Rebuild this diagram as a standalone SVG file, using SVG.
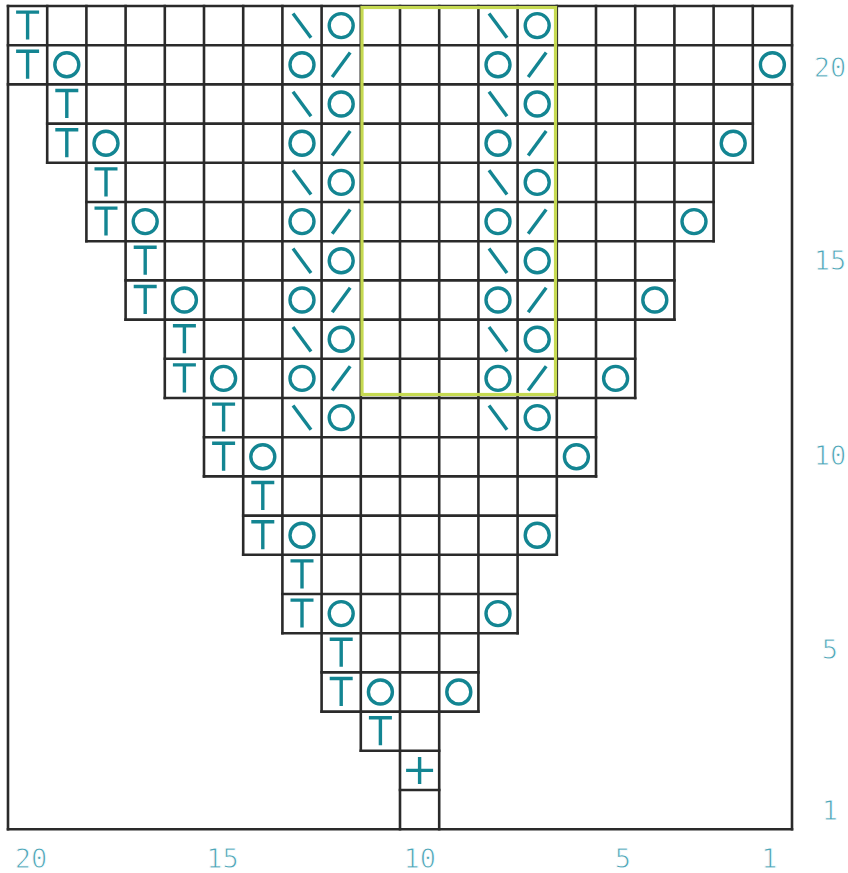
<svg xmlns="http://www.w3.org/2000/svg" xmlns:xlink="http://www.w3.org/1999/xlink" width="848" height="873" viewBox="0 0 848 873">
<style>
.grid{stroke:#2a2a2a;stroke-width:2.6;fill:none;stroke-linecap:square}
.sym{stroke:#138592;stroke-width:3.4;fill:none;stroke-linecap:butt}
.hl{stroke:#c6da52;stroke-width:3.2;fill:none}
.lbl{font-family:"DejaVu Sans Mono","Liberation Mono",monospace;font-size:27px;fill:#4ea6b8;text-anchor:middle;stroke:#ffffff;stroke-width:0.9;paint-order:normal}
</style>
<defs>
<circle id="O" class="sym" cx="0" cy="0" r="12"/>
<path id="T" class="sym" d="M-11.5,-13.5H11.5M0,-13.5V14"/>
<path id="B" class="sym" d="M-9,-12.2L9,12.2"/>
<path id="S" class="sym" d="M-9,12.2L9,-12.2"/>
<path id="P" class="sym" d="M-13.5,0H13.5M0,-13.5V13.5"/>
</defs>
<rect width="848" height="873" fill="#ffffff"/>
<g id="grid" class="grid">
<path d="M8,6H792M8,45.2H792M8,84.4H792M47.2,123.6H752.8M47.2,162.8H752.8M86.4,202H713.6M86.4,241.2H713.6M125.6,280.4H674.4M125.6,319.6H674.4M164.8,358.8H635.2M164.8,398H635.2M204,437.2H596M204,476.4H596M243.2,515.6H556.8M243.2,554.8H556.8M282.4,594H517.6M282.4,633.2H517.6M321.6,672.4H478.4M321.6,711.6H478.4M360.8,750.8H439.2M400,790H439.2M8,829.2H792"/>
<path d="M8,6V829.2M792,6V829.2M47.2,6V162.8M752.8,6V162.8M86.4,6V241.2M713.6,6V241.2M125.6,6V319.6M674.4,6V319.6M164.8,6V398M635.2,6V398M204,6V476.4M596,6V476.4M243.2,6V554.8M556.8,6V554.8M282.4,6V633.2M517.6,6V633.2M321.6,6V711.6M478.4,6V711.6M360.8,6V750.8M400,6V829.2M439.2,6V829.2"/>
</g>
<g id="symbols">
<g id="row21"><use href="#T" x="27.6" y="25.6"/><use href="#B" x="302" y="25.6"/><use href="#O" x="341.2" y="25.6"/><use href="#B" x="498" y="25.6"/><use href="#O" x="537.2" y="25.6"/></g>
<g id="row20"><use href="#T" x="27.6" y="64.8"/><use href="#O" x="66.8" y="64.8"/><use href="#O" x="302" y="64.8"/><use href="#S" x="341.2" y="64.8"/><use href="#O" x="498" y="64.8"/><use href="#S" x="537.2" y="64.8"/><use href="#O" x="772.4" y="64.8"/></g>
<g id="row19"><use href="#T" x="66.8" y="104"/><use href="#B" x="302" y="104"/><use href="#O" x="341.2" y="104"/><use href="#B" x="498" y="104"/><use href="#O" x="537.2" y="104"/></g>
<g id="row18"><use href="#T" x="66.8" y="143.2"/><use href="#O" x="106" y="143.2"/><use href="#O" x="302" y="143.2"/><use href="#S" x="341.2" y="143.2"/><use href="#O" x="498" y="143.2"/><use href="#S" x="537.2" y="143.2"/><use href="#O" x="733.2" y="143.2"/></g>
<g id="row17"><use href="#T" x="106" y="182.4"/><use href="#B" x="302" y="182.4"/><use href="#O" x="341.2" y="182.4"/><use href="#B" x="498" y="182.4"/><use href="#O" x="537.2" y="182.4"/></g>
<g id="row16"><use href="#T" x="106" y="221.6"/><use href="#O" x="145.2" y="221.6"/><use href="#O" x="302" y="221.6"/><use href="#S" x="341.2" y="221.6"/><use href="#O" x="498" y="221.6"/><use href="#S" x="537.2" y="221.6"/><use href="#O" x="694" y="221.6"/></g>
<g id="row15"><use href="#T" x="145.2" y="260.8"/><use href="#B" x="302" y="260.8"/><use href="#O" x="341.2" y="260.8"/><use href="#B" x="498" y="260.8"/><use href="#O" x="537.2" y="260.8"/></g>
<g id="row14"><use href="#T" x="145.2" y="300"/><use href="#O" x="184.4" y="300"/><use href="#O" x="302" y="300"/><use href="#S" x="341.2" y="300"/><use href="#O" x="498" y="300"/><use href="#S" x="537.2" y="300"/><use href="#O" x="654.8" y="300"/></g>
<g id="row13"><use href="#T" x="184.4" y="339.2"/><use href="#B" x="302" y="339.2"/><use href="#O" x="341.2" y="339.2"/><use href="#B" x="498" y="339.2"/><use href="#O" x="537.2" y="339.2"/></g>
<g id="row12"><use href="#T" x="184.4" y="378.4"/><use href="#O" x="223.6" y="378.4"/><use href="#O" x="302" y="378.4"/><use href="#S" x="341.2" y="378.4"/><use href="#O" x="498" y="378.4"/><use href="#S" x="537.2" y="378.4"/><use href="#O" x="615.6" y="378.4"/></g>
<g id="row11"><use href="#T" x="223.6" y="417.6"/><use href="#B" x="302" y="417.6"/><use href="#O" x="341.2" y="417.6"/><use href="#B" x="498" y="417.6"/><use href="#O" x="537.2" y="417.6"/></g>
<g id="row10"><use href="#T" x="223.6" y="456.8"/><use href="#O" x="262.8" y="456.8"/><use href="#O" x="576.4" y="456.8"/></g>
<g id="row9"><use href="#T" x="262.8" y="496"/></g>
<g id="row8"><use href="#T" x="262.8" y="535.2"/><use href="#O" x="302" y="535.2"/><use href="#O" x="537.2" y="535.2"/></g>
<g id="row7"><use href="#T" x="302" y="574.4"/></g>
<g id="row6"><use href="#T" x="302" y="613.6"/><use href="#O" x="341.2" y="613.6"/><use href="#O" x="498" y="613.6"/></g>
<g id="row5"><use href="#T" x="341.2" y="652.8"/></g>
<g id="row4"><use href="#T" x="341.2" y="692"/><use href="#O" x="380.4" y="692"/><use href="#O" x="458.8" y="692"/></g>
<g id="row3"><use href="#T" x="380.4" y="731.2"/></g>
<g id="row2"><use href="#P" x="419.6" y="770.4"/></g>
</g>
<rect id="highlight" class="hl" x="362" y="7.5" width="193.5" height="387"/>
<g id="row-labels" class="lbl">
<text x="830" y="76.5">20</text>
<text x="830" y="270">15</text>
<text x="830" y="465">10</text>
<text x="830" y="658.5">5</text>
<text x="830" y="820">1</text>
</g>
<g id="col-labels" class="lbl">
<text x="31" y="868">20</text>
<text x="222.5" y="868">15</text>
<text x="419.7" y="868">10</text>
<text x="623" y="868">5</text>
<text x="769.5" y="868">1</text>
</g>
</svg>
